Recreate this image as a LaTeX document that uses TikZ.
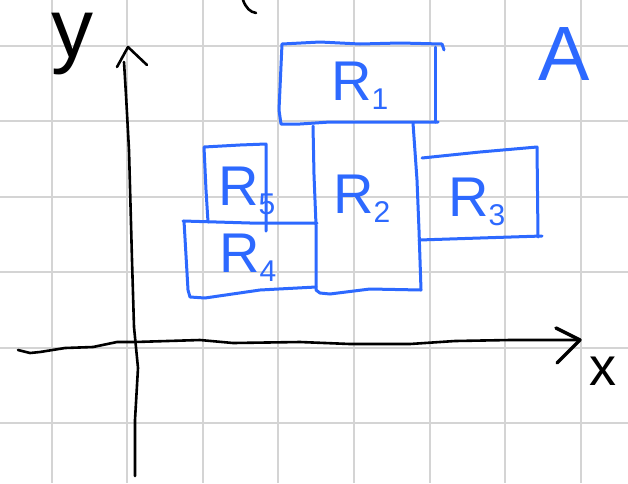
\documentclass[tikz,border=0pt]{standalone}
\usepackage{fontspec}
\setmainfont{Liberation Sans}
\definecolor{penblue}{RGB}{45,105,255}
\definecolor{gridgray}{RGB}{212,212,212}
\newcommand{\subdigit}[1]{\raisebox{-9pt}{\fontsize{30}{30}\selectfont #1}}
\begin{document}
\begin{tikzpicture}[x=1pt,y=-1pt,
  gridline/.style={gridgray,line width=2pt},
  inkline/.style={black,line width=2.6pt,line cap=round,line join=round},
  penline/.style={penblue,line width=3pt,line cap=round,line join=round},
  rlabel/.style={font=\fontsize{56}{60}\selectfont,text=penblue,inner sep=0pt,anchor=base west},
  axislabel/.style={inner sep=0pt,anchor=base}]
\fill[white] (0,0) rectangle (628,483);
\useasboundingbox (0,0) rectangle (628,483);

% squared paper
\foreach \k in {0,...,7} \draw[gridline] (51.5+75.6*\k,0) -- (51.5+75.6*\k,483);
\foreach \k in {0,...,5} \draw[gridline] (0,45.5+75.5*\k) -- (628,45.5+75.5*\k);

% axes
\draw[inkline] (135,476) -- (135,420) -- (138,368) -- (134,327) -- (132,260)
  -- (129,150) -- (126,95) -- (124,62);
\draw[inkline] (117,67) -- (128,47) -- (147,65);
\draw[inkline] (18,350) -- (30,353) -- (40,352) -- (65,348) -- (93,347) -- (117,342)
  -- (135,342) -- (200,340) -- (233,343) -- (300,342) -- (350,344) -- (410,344)
  -- (455,341) -- (510,340) -- (578,340);
\draw[inkline,line width=3.4pt] (556,328) -- (580,340) -- (557,363);
\draw[inkline] (243,0) .. controls (246,8) and (250,12) .. (256,13);

\node[axislabel,font=\fontsize{84}{88}\selectfont] (ylab) at (72,57) {y};
\node[axislabel,font=\fontsize{54}{58}\selectfont] (xlab) at (603,385) {x};
\node[axislabel,font=\fontsize{77}{80}\selectfont,text=penblue] (alab) at (564,80) {A};

% R1
\draw[penline] (444,50) -- (442,44) -- (400,43) -- (360,44) -- (320,42) -- (282,44)
  -- (279,110) -- (281,124) -- (300,124) -- (330,122) -- (438,122);
\draw[penline] (435,47) -- (435,122);
% R2
\draw[penline] (313,126) -- (314,175) -- (316,225) -- (316,290) -- (320,293)
  -- (330,294) -- (370,289) -- (421,290);
\draw[penline] (413,123) -- (417,180) -- (419,230) -- (421,290);
% R3
\draw[penline] (422,158) -- (480,152) -- (537,147) -- (538,237);
\draw[penline] (542,236) -- (480,238) -- (419,240);
% R4
\draw[penline] (183,221) -- (250,223) -- (317,223);
\draw[penline] (184,221) -- (188,290) -- (190,297) -- (205,298) -- (260,290) -- (316,287);
% R5
\draw[penline] (208,222) -- (206,190) -- (204,147) -- (240,145) -- (266,144)
  -- (266,200) -- (266,231);

\node[rlabel] (r1) at (331,100) {R\subdigit{1}};
\node[rlabel] (r2) at (333,213) {R\subdigit{2}};
\node[rlabel] (r3) at (448,216) {R\subdigit{3}};
\node[rlabel] (r4) at (219,272) {R\subdigit{4}};
\node[rlabel] (r5) at (218,205) {R\subdigit{5}};
\end{tikzpicture}
\end{document}
